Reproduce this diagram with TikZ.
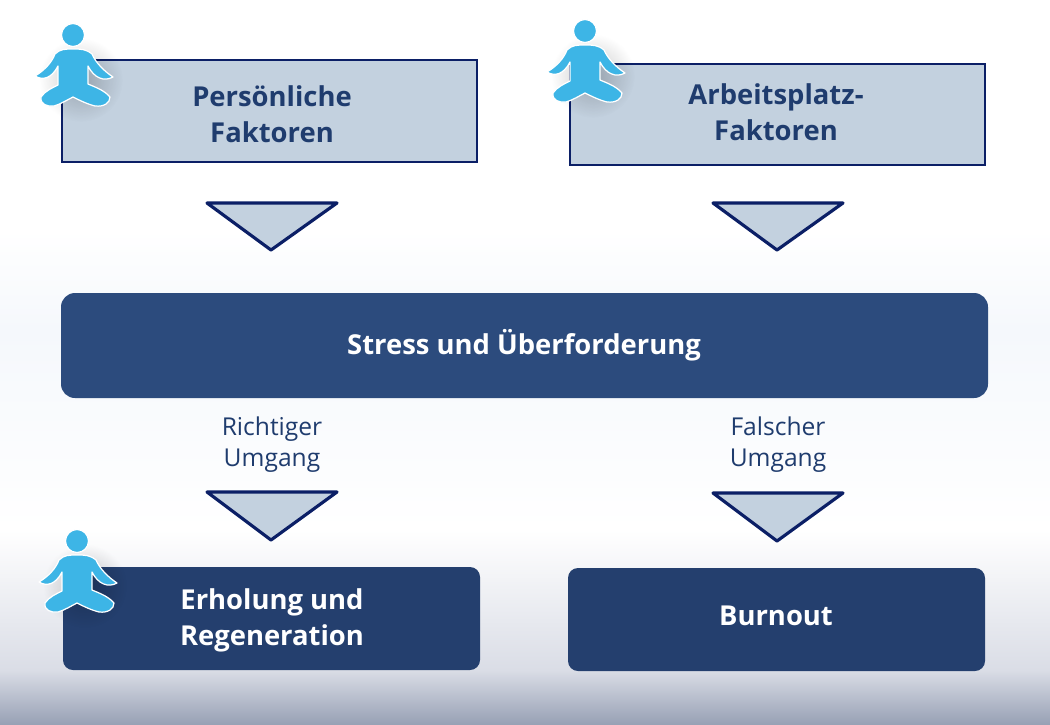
\documentclass[tikz,border=0pt]{standalone}
\usepackage{fontspec}
\setmainfont{Open Sans}
\usetikzlibrary{fadings}
\definecolor{lightbox}{HTML}{C3D1DF}
\definecolor{edgeblue}{HTML}{0B1F66}
\definecolor{stressblue}{HTML}{2C4B7D}
\definecolor{darkbox}{HTML}{243F6E}
\definecolor{titleblue}{HTML}{1F3C6E}
\definecolor{sitterblue}{HTML}{3DB5E6}
\definecolor{bgmid}{HTML}{F5F8FC}
\definecolor{bglow}{HTML}{DADDE6}
\definecolor{bgend}{HTML}{98A1B5}
\tikzfading[name=softspot, inner color=transparent!78, outer color=transparent!100]
\tikzset{
  lightrect/.style={draw=edgeblue, line width=1.6pt, fill=lightbox},
  arrowtri/.style={draw=edgeblue, line width=1.8pt, fill=lightbox, line join=round},
  boldtitle/.style={align=center, font=\fontsize{15.6}{20.4}\selectfont\bfseries, text=titleblue},
  whitetitle/.style={align=center, font=\fontsize{15.6}{20.4}\selectfont\bfseries, text=white},
  smalltitle/.style={align=center, font=\fontsize{14}{17.6}\selectfont, text=titleblue},
  sitter/.pic={
    \fill[black, path fading=softspot] (8,45) circle (42);
    \fill[sitterblue, draw=white, line width=0.7pt] (0,0) circle (11.5);
    \fill[sitterblue, draw=white, line width=0.7pt, line join=round]
      (0,14) .. controls (-8,14) and (-13,14) .. (-18,19)
      .. controls (-21,27) and (-28,35) .. (-38,41)
      .. controls (-30,46) and (-21,43) .. (-15,31)
      -- (-15,50)
      .. controls (-21,53) and (-28,56) .. (-32,62)
      .. controls (-33,69) and (-26,72) .. (-19,71)
      .. controls (-12,69) and (-6,65) .. (0,62)
      .. controls (6,65) and (14,69) .. (22,71)
      .. controls (31,72) and (37,68) .. (37,62)
      .. controls (31,55) and (22,52) .. (15,49)
      -- (15,31)
      .. controls (21,43) and (31,47) .. (40,42)
      .. controls (31,36) and (23,28) .. (19,19)
      .. controls (13,14) and (8,14) .. (0,14) -- cycle;
  }
}
\begin{document}
\begin{tikzpicture}[x=0.02cm,y=-0.02cm]
\useasboundingbox (0,0) rectangle (1050,724);
% background
\fill[white] (0,0) rectangle (1050,230);
\shade[top color=white, bottom color=bgmid] (0,230) rectangle (1050,330);
\shade[top color=bgmid, bottom color=white] (0,330) rectangle (1050,530);
\shade[top color=white, middle color=white!95!bglow, bottom color=bglow] (0,530) rectangle (1050,670);
\shade[top color=bglow, bottom color=bgend] (0,670) rectangle (1050,724);

% top boxes
\draw[lightrect] (62,60) rectangle (477,162);
\draw[lightrect] (570,64) rectangle (985,165);
\node[boldtitle] (personal) at (272,114) {Persönliche\\Faktoren};
\node[boldtitle] (workplace) at (776,112) {Arbeitsplatz-\\Faktoren};

\draw[arrowtri] (207,203) -- (337,203) -- (271,250) -- cycle;
\draw[arrowtri] (713,203) -- (843,203) -- (777,250) -- cycle;

% middle
\fill[stressblue, rounded corners=0.28cm] (61,293) rectangle (988,398);
\node[whitetitle] (stress) at (524,345) {Stress und Überforderung};
\node[smalltitle] (right) at (272,445) {Richtiger\\Umgang};
\node[smalltitle] (wrong) at (778,445) {Falscher\\Umgang};

\draw[arrowtri] (207,492) -- (337,492) -- (271,540) -- cycle;
\draw[arrowtri] (713,493) -- (843,493) -- (777,541) -- cycle;

% bottom boxes
\fill[darkbox, rounded corners=0.2cm] (63,567) rectangle (480,670);
\fill[darkbox, rounded corners=0.2cm] (568,568) rectangle (985,671);
\node[whitetitle] (recovery) at (272,620) {Erholung und\\Regeneration};
\node[whitetitle] (burnout) at (776,616) {Burnout};

\pic at (73,35) {sitter};
\pic at (585,31) {sitter};
\pic at (77,541) {sitter};
\end{tikzpicture}
\end{document}
